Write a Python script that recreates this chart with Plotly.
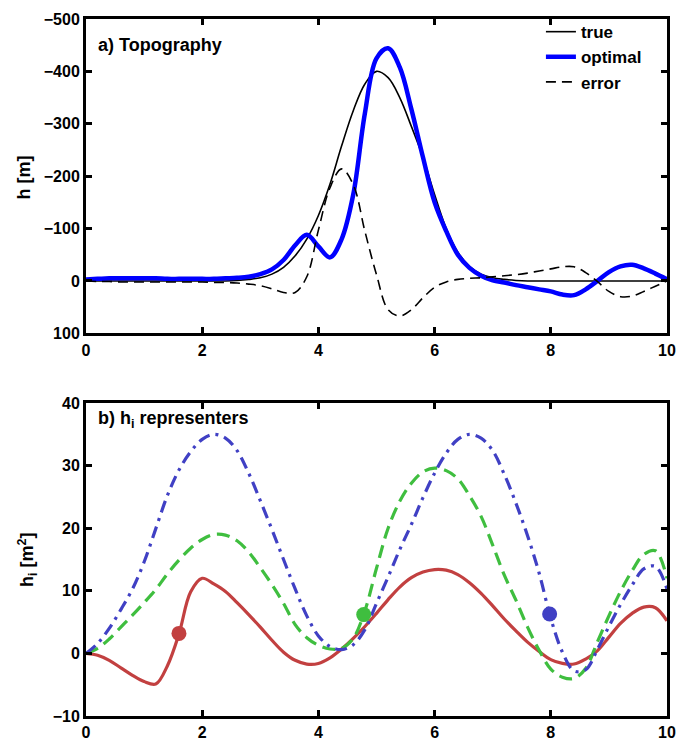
import plotly.graph_objects as go

# ---------- Panel a: topography (x step 0.2) ----------
xa = [round(0.2 * i, 1) for i in range(51)]

true_v = [0, 0, 0, 0, 0, 0, 0, 0, 0, 0,
          0, 0, 0, -1, -3, -6, -13, -26, -48, -80,
          -125, -185, -258, -325, -376, -400, -388, -350, -295, -236,
          -165, -100, -55, -28, -13, -6, -3, -1, 0, 0,
          0, 0, 0, 0, 0, 0, 0, 0, 0, 0, 0]

opt_v = [-3, -4, -5, -5, -5, -5, -5, -4, -4, -4,
         -4, -4, -5, -6, -8, -13, -22, -40, -68, -88,
         -66, -45, -80, -165, -320, -425, -444, -408, -328, -236,
         -150, -95, -50, -25, -10, -1, 3, 8, 12, 16,
         20, 26, 27, 16, 0, -17, -28, -31, -24, -14, -3]

err_v = [0, 1, 1, 2, 2, 2, 2, 2, 2, 2,
         2, 3, 3, 4, 6, 9, 15, 22, 22, -8,
         -97, -178, -214, -184, -95, -12, 55, 67, 55, 32,
         12, 2, -3, -5, -6, -8, -10, -12, -15, -19,
         -23, -27, -27, -16, 1, 20, 30, 29, 20, 10, 0]

# ---------- Panel b: h_i representers (x step 0.2) ----------
xb = [round(0.2 * i, 1) for i in range(51)]

red_v = [0, -0.3, -1.1, -2.3, -3.5, -4.5, -4.9, -2.0, 3.1, 9.8,
         12.0, 11.1, 9.9, 8.1, 6.2, 4.2, 2.1, 0.2, -1.1, -1.7,
         -1.6, -0.7, 0.7, 2.4, 4.3, 6.4, 8.6, 10.6, 12.1, 13.0,
         13.4, 13.3, 12.6, 11.3, 9.6, 7.6, 5.5, 3.6, 1.8, 0.3,
         -1.0, -1.6, -1.7, -0.9, 0.4, 2.6, 4.8, 6.4, 7.4, 7.3, 5.2]

grn_v = [0, 0.8, 2.3, 4.2, 6.1, 8.1, 10.2, 12.7, 14.9, 16.8,
         18.2, 19.0, 18.9, 18.0, 16.2, 13.7, 11.0, 8.0, 4.6, 2.5,
         1.3, 0.7, 0.8, 2.4, 6.8, 13.6, 20.0, 24.3, 27.2, 29.0,
         29.6, 29.2, 27.9, 25.2, 21.9, 17.3, 12.5, 8.5, 4.2, 0.5,
         -2.5, -3.8, -4.0, -2.4, 1.8, 6.0, 9.9, 13.2, 15.8, 16.4, 12.0]

blu_v = [0, 1.6, 4.0, 7.0, 10.3, 14.6, 19.9, 25.2, 29.3, 32.2,
         34.2, 35.0, 34.4, 32.4, 28.8, 24.4, 19.8, 15.0, 10.3, 6.0,
         2.8, 1.1, 0.6, 1.4, 3.8, 8.0, 12.2, 16.6, 20.6, 24.9,
         28.8, 32.0, 34.2, 35.0, 34.4, 32.4, 28.6, 24.0, 18.8, 12.8,
         5.6, 0.2, -2.8, -2.6, 0.6, 4.3, 7.8, 10.9, 13.5, 13.9, 10.3]

obs_x = [1.6, 4.78, 7.98]
obs_v = [3.2, 6.2, 6.3]

RED = "#C24040"
GRN = "#3FBE3F"
BLU = "#4040C4"
obs_colors = [RED, GRN, BLU]

FONT = "Liberation Sans"
fig = go.Figure()

fig.add_trace(go.Scatter(x=xa, y=true_v, mode="lines", name="true",
                         line=dict(color="black", width=1.6, shape="spline", smoothing=1),
                         xaxis="x", yaxis="y", legendgroup="a"))
fig.add_trace(go.Scatter(x=xa, y=opt_v, mode="lines", name="optimal",
                         line=dict(color="#0000FF", width=4.5, shape="spline", smoothing=1),
                         xaxis="x", yaxis="y", legendgroup="b"))
fig.add_trace(go.Scatter(x=xa, y=err_v, mode="lines", name="error",
                         line=dict(color="black", width=1.6, dash="10px,6px",
                                   shape="spline", smoothing=1),
                         xaxis="x", yaxis="y", legendgroup="c"))

fig.add_trace(go.Scatter(x=xb, y=red_v, mode="lines", showlegend=False,
                         line=dict(color=RED, width=3.2, shape="spline", smoothing=1),
                         xaxis="x2", yaxis="y2"))
fig.add_trace(go.Scatter(x=xb, y=grn_v, mode="lines", showlegend=False,
                         line=dict(color=GRN, width=3.2, dash="13px,7px",
                                   shape="spline", smoothing=1),
                         xaxis="x2", yaxis="y2"))
fig.add_trace(go.Scatter(x=xb, y=blu_v, mode="lines", showlegend=False,
                         line=dict(color=BLU, width=3.2, dash="12px,6px,3px,6px",
                                   shape="spline", smoothing=1),
                         xaxis="x2", yaxis="y2"))
fig.add_trace(go.Scatter(x=obs_x, y=obs_v, mode="markers", showlegend=False,
                         marker=dict(color=obs_colors, size=15, line=dict(width=0)),
                         xaxis="x2", yaxis="y2"))

tickfont = dict(family=FONT, size=16, color="black", weight="bold")
axis_common = dict(showline=True, linewidth=3, linecolor="black", mirror="ticks",
                   ticks="inside", ticklen=6, tickwidth=2.5, tickcolor="black",
                   showgrid=False, zeroline=False, tickfont=tickfont)
txtfont = dict(family=FONT, size=18, color="black", weight="bold")
legfont = dict(family=FONT, size=17, color="black", weight="bold")

fig.update_layout(
    width=695, height=752,
    margin=dict(l=86, r=28, t=11, b=29),
    paper_bgcolor="white", plot_bgcolor="white",
    xaxis=dict(domain=[0, 1], range=[0, 10], tickvals=[0, 2, 4, 6, 8, 10],
               anchor="y", **axis_common),
    yaxis=dict(domain=[0.549, 1], range=[100, -500],
               tickvals=[-500, -400, -300, -200, -100, 0, 100],
               anchor="x", **axis_common),
    xaxis2=dict(domain=[0, 1], range=[0, 10], tickvals=[0, 2, 4, 6, 8, 10],
                anchor="y2", **axis_common),
    yaxis2=dict(domain=[0, 0.449], range=[-10, 40],
                tickvals=[-10, 0, 10, 20, 30, 40],
                anchor="x2", **axis_common),
    legend=dict(x=0.783, y=1.007, xanchor="left", yanchor="top",
                bgcolor="rgba(0,0,0,0)", tracegroupgap=0,
                font=legfont),
    annotations=[
        dict(text="a) Topography", x=0.018, y=0.963, xref="paper", yref="paper",
             xanchor="left", yanchor="middle", showarrow=False, font=txtfont),
        dict(text="b) h<sub>i</sub> representers", x=0.018, y=0.4255,
             xref="paper", yref="paper", xanchor="left", yanchor="middle",
             showarrow=False, font=txtfont),
        dict(text="h [m]", x=-0.107, y=0.7725, xref="paper", yref="paper",
             xanchor="center", yanchor="middle", textangle=-90, showarrow=False,
             font=txtfont),
        dict(text="h<sub>i</sub> [m<sup>2</sup>]", x=-0.102, y=0.225,
             xref="paper", yref="paper", xanchor="center", yanchor="middle",
             textangle=-90, showarrow=False, font=txtfont),
    ],
)

fig.write_html("out.html")
